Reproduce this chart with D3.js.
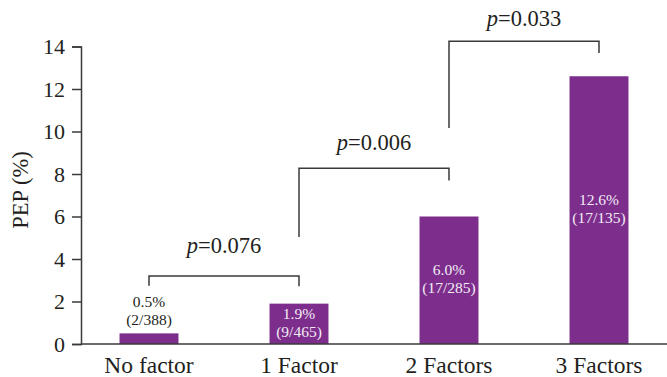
<!DOCTYPE html>
<html>
<head>
<meta charset="utf-8">
<script src="https://cdn.jsdelivr.net/npm/d3@7.9.0/dist/d3.min.js"></script>
</head>
<body style="margin:0">
<svg id="chart" width="667" height="377"></svg>
<script>
// data
const categories = ["No factor", "1 Factor", "2 Factors", "3 Factors"];
const pep = [0.5, 1.9, 6.0, 12.6];
const counts = ["(2/388)", "(9/465)", "(17/285)", "(17/135)"];
const labelInside = [false, true, true, true];
const yTicks = [0, 2, 4, 6, 8, 10, 12, 14];

// comparison brackets (in PEP % units)
const pValues = ["0.076", "0.006", "0.033"];
const bracketFrom = [0, 1, 2];
const bracketTo = [1, 2, 3];
const bracketTop = [3.2, 8.27, 14.25];
const legLeft = [2.74, 5.04, 10.16];
const legRight = [2.72, 7.7, 13.7];
const pTextAt = [4.27, 9.11, 14.98];

const svg = d3.select("#chart");
const purple = "#7d2e8d";
const ink = "#3a3a3a";
const textCol = "#231f20";

const x = d3.scaleBand()
  .domain(categories)
  .range([74, 674])
  .paddingInner(0.607)
  .paddingOuter(0.3035);

const y = d3.scaleLinear()
  .domain([0, 14])
  .range([344, 46.5]);

const cx = i => x(categories[i]) + x.bandwidth() / 2;

// bars
svg.append("g").selectAll("rect")
  .data(pep)
  .join("rect")
  .attr("x", (d, i) => x(categories[i]))
  .attr("y", d => y(d))
  .attr("width", x.bandwidth())
  .attr("height", d => y(0) - y(d))
  .attr("fill", purple);

// bar labels
pep.forEach((d, i) => {
  const base = labelInside[i] ? (y(d) + y(0)) / 2 - 5 : y(d) - 26;
  [d.toFixed(1) + "%", counts[i]].forEach((s, j) => {
    svg.append("text")
      .attr("x", cx(i))
      .attr("y", base + j * 18)
      .attr("text-anchor", "middle")
      .style("font-family", '"Liberation Serif"')
      .style("font-size", "15.5px")
      .style("fill", labelInside[i] ? "#f3ecf4" : textCol)
      .text(s);
  });
});

// y axis
const yAxis = svg.append("g")
  .attr("transform", "translate(81,0)")
  .call(d3.axisLeft(y).tickValues(yTicks).tickSize(9).tickPadding(7));
yAxis.select(".domain").attr("stroke", ink).attr("stroke-width", 1.5);
yAxis.selectAll(".tick line").attr("stroke", ink).attr("stroke-width", 1.5);
yAxis.selectAll("text")
  .style("font-family", '"Liberation Serif"')
  .style("font-size", "22px")
  .style("fill", textCol);

// x axis
const xAxis = svg.append("g")
  .attr("transform", "translate(0,344)")
  .call(d3.axisBottom(x).tickSize(0).tickPadding(12));
xAxis.select(".domain").remove();
xAxis.selectAll("text")
  .style("font-family", '"Liberation Serif"')
  .style("font-size", "23.5px")
  .style("fill", textCol);

svg.append("line")
  .attr("x1", 81).attr("x2", 667)
  .attr("y1", y(0)).attr("y2", y(0))
  .attr("stroke", ink).attr("stroke-width", 1.5);

// y label
svg.append("text")
  .attr("transform", "translate(28,190) rotate(-90)")
  .attr("text-anchor", "middle")
  .style("font-family", '"Liberation Serif"')
  .style("font-size", "22.5px")
  .style("fill", textCol)
  .text("PEP (%)");

// brackets
pValues.forEach((p, k) => {
  const x1 = cx(bracketFrom[k]), x2 = cx(bracketTo[k]);
  const path = d3.path();
  path.moveTo(x1, y(legLeft[k]));
  path.lineTo(x1, y(bracketTop[k]));
  path.lineTo(x2, y(bracketTop[k]));
  path.lineTo(x2, y(legRight[k]));
  svg.append("path")
    .attr("d", path.toString())
    .attr("fill", "none")
    .attr("stroke", ink)
    .attr("stroke-width", 1.5);

  const t = svg.append("text")
    .attr("x", (x1 + x2) / 2)
    .attr("y", y(pTextAt[k]))
    .attr("text-anchor", "middle")
    .style("font-family", '"Liberation Serif"')
    .style("font-size", "22.5px")
    .style("fill", textCol);
  t.append("tspan").style("font-style", "italic").text("p");
  t.append("tspan").text("=" + p);
});
</script>
</body>
</html>
